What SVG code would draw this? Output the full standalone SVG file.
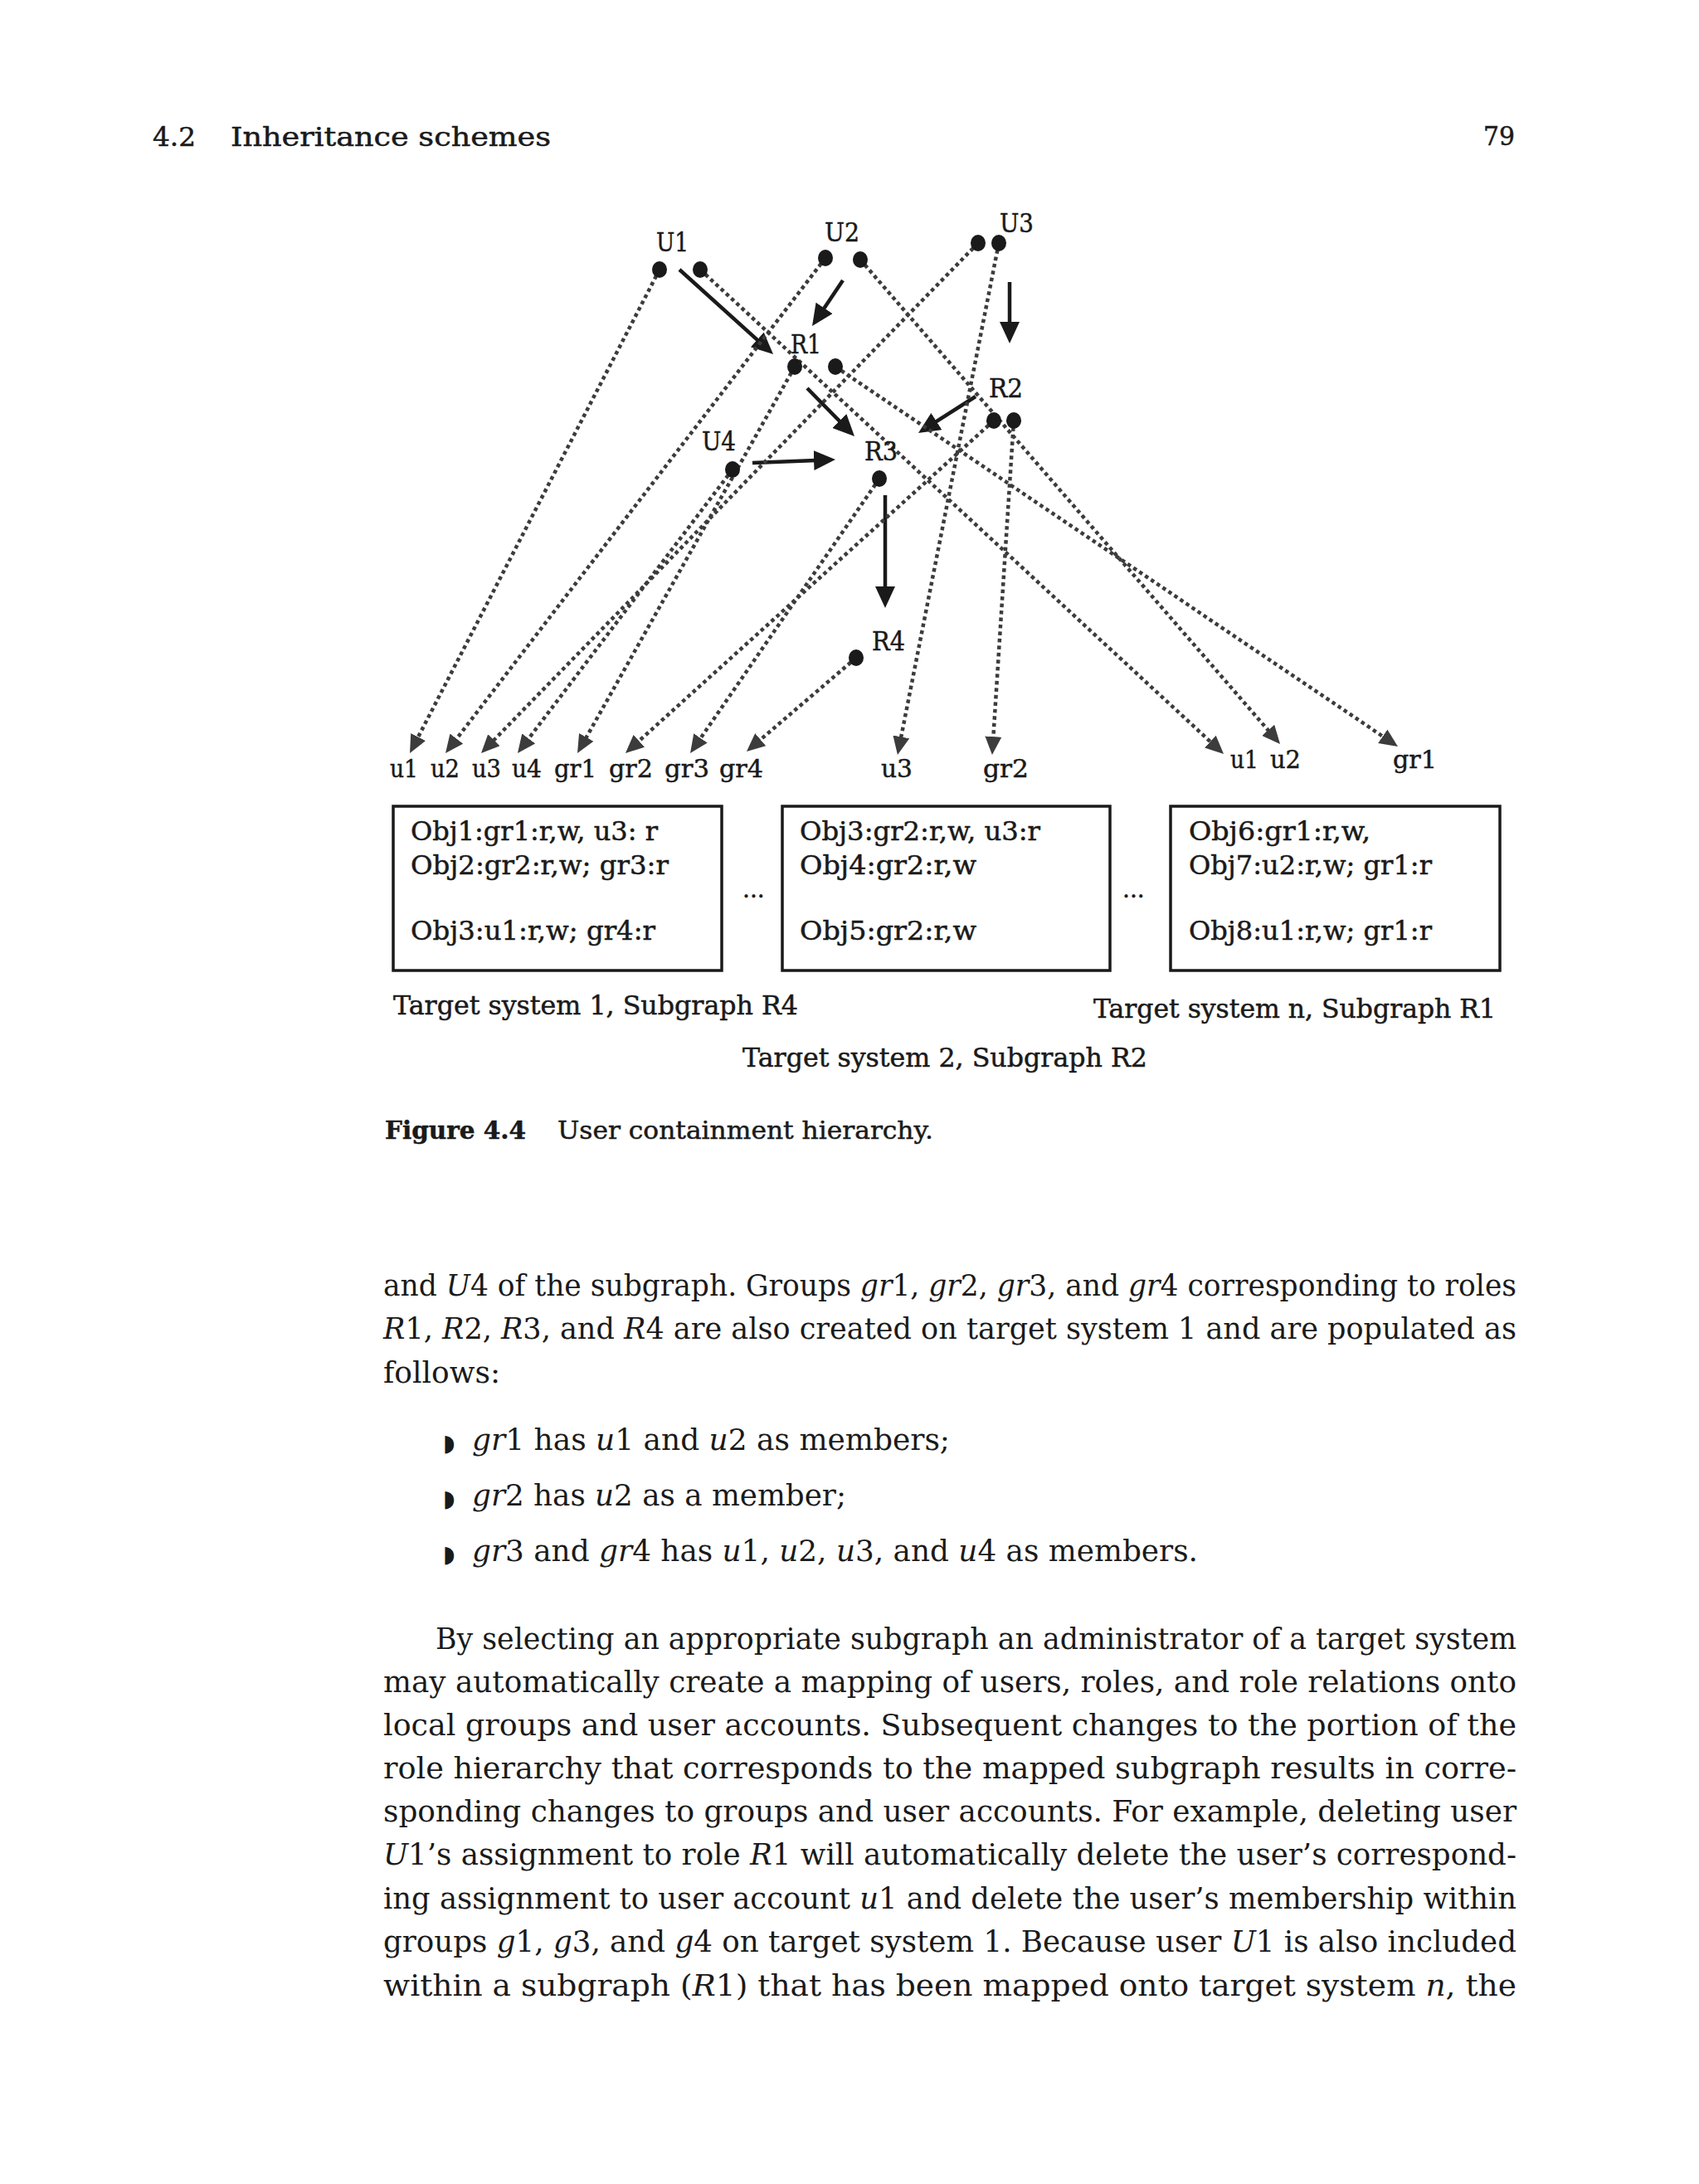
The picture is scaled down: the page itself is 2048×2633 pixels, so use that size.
<svg xmlns="http://www.w3.org/2000/svg" width="2048" height="2633" viewBox="0 0 2048 2633">
<style>
.sl{font-family:"DejaVu Serif","Liberation Serif",serif;fill:#1a1a1a;stroke:#1a1a1a;stroke-width:0.5}
.lb{font-size:32px}
.tl{font-size:30px}
.bx{font-size:31px}
.body{font-family:"DejaVu Serif","Liberation Serif",serif;font-size:35px;fill:#1a1a1a}
.i{font-style:italic}
.dot{fill:#1a1a1a}
.sol{stroke:#1a1a1a;stroke-width:4.5;fill:none;marker-end:url(#ah)}
.dt{stroke:#3c3c3c;stroke-width:4.5;stroke-dasharray:4.5 4;fill:none;marker-end:url(#ahg)}
.box{fill:none;stroke:#1a1a1a;stroke-width:3.5}
.bul{font-family:"DejaVu Sans",sans-serif;font-size:28px;fill:#1a1a1a}
</style>
<defs>
<marker id="ah" markerUnits="userSpaceOnUse" viewBox="0 0 26 24" refX="16" refY="12" markerWidth="26" markerHeight="24" orient="auto"><path d="M0,0 L26,12 L0,24 z" fill="#1a1a1a"/></marker>
<marker id="ahg" markerUnits="userSpaceOnUse" viewBox="0 0 22 20" refX="12" refY="10" markerWidth="22" markerHeight="20" orient="auto"><path d="M0,0 L22,10 L0,20 z" fill="#3c3c3c"/></marker>
</defs>
<rect width="2048" height="2633" fill="#fff"/>

<g id="header">
<text class="sl" x="184" y="176" font-size="32" textLength="52" lengthAdjust="spacingAndGlyphs">4.2</text>
<text class="sl" x="278" y="176" font-size="32" textLength="386" lengthAdjust="spacingAndGlyphs">Inheritance schemes</text>
<text class="sl" x="1788" y="175" font-size="32" textLength="38" lengthAdjust="spacingAndGlyphs">79</text>
</g>

<g id="connectors">
<line class="sol" x1="819" y1="325" x2="924.6" y2="420.3"/>
<line class="sol" x1="1016" y1="338" x2="984.6" y2="384.7"/>
<line class="sol" x1="1217" y1="340" x2="1217" y2="404"/>
<line class="sol" x1="1176" y1="478" x2="1115.4" y2="516.6"/>
<line class="sol" x1="973" y1="468" x2="1023" y2="518.9"/>
<line class="sol" x1="907" y1="558" x2="997" y2="554.4"/>
<line class="sol" x1="1067" y1="597" x2="1067" y2="723"/>

<line class="dt" x1="795" y1="325" x2="498.6" y2="899.1"/>
<line class="dt" x1="995" y1="311" x2="543.1" y2="900.1"/>
<line class="dt" x1="1179" y1="293" x2="587.0" y2="900.8"/>
<line class="dt" x1="883" y1="566" x2="630.0" y2="900.0"/>
<line class="dt" x1="958" y1="442" x2="700.9" y2="899.3"/>
<line class="dt" x1="1198" y1="507" x2="761.4" y2="901.3"/>
<line class="dt" x1="1060" y1="577" x2="837.7" y2="899.8"/>
<line class="dt" x1="1032" y1="793" x2="907.6" y2="899.5"/>
<line class="dt" x1="1204" y1="293" x2="1083.9" y2="900.2"/>
<line class="dt" x1="1222" y1="507" x2="1196.6" y2="900.0"/>
<line class="dt" x1="844" y1="325" x2="1467.7" y2="902.2"/>
<line class="dt" x1="1037" y1="313" x2="1536.5" y2="889.4"/>
<line class="dt" x1="1007" y1="442" x2="1676.7" y2="894.4"/>
</g>

<g id="U1"><text class="sl lb" x="791" y="303" textLength="39" lengthAdjust="spacingAndGlyphs">U1</text><ellipse class="dot" cx="795" cy="325" rx="9" ry="10"/><ellipse class="dot" cx="844" cy="325" rx="9" ry="10"/></g>
<g id="U2"><text class="sl lb" x="994" y="291" textLength="42" lengthAdjust="spacingAndGlyphs">U2</text><ellipse class="dot" cx="995" cy="311" rx="9" ry="10"/><ellipse class="dot" cx="1037" cy="313" rx="9" ry="10"/></g>
<g id="U3"><text class="sl lb" x="1205" y="280" textLength="41" lengthAdjust="spacingAndGlyphs">U3</text><ellipse class="dot" cx="1179" cy="293" rx="9" ry="10"/><ellipse class="dot" cx="1204" cy="293" rx="9" ry="10"/></g>
<g id="R1"><text class="sl lb" x="953" y="426" textLength="37" lengthAdjust="spacingAndGlyphs">R1</text><ellipse class="dot" cx="958" cy="442" rx="9" ry="10"/><ellipse class="dot" cx="1007" cy="442" rx="9" ry="10"/></g>
<g id="R2"><text class="sl lb" x="1192" y="479" textLength="41" lengthAdjust="spacingAndGlyphs">R2</text><ellipse class="dot" cx="1198" cy="507" rx="9" ry="10"/><ellipse class="dot" cx="1222" cy="507" rx="9" ry="10"/></g>
<g id="U4"><text class="sl lb" x="846" y="543" textLength="41" lengthAdjust="spacingAndGlyphs">U4</text><ellipse class="dot" cx="883" cy="566" rx="9" ry="10"/></g>
<g id="R3"><text class="sl lb" x="1042" y="555" textLength="40" lengthAdjust="spacingAndGlyphs">R3</text><ellipse class="dot" cx="1060" cy="577" rx="9" ry="10"/></g>
<g id="R4"><text class="sl lb" x="1051" y="784" textLength="40" lengthAdjust="spacingAndGlyphs">R4</text><ellipse class="dot" cx="1032" cy="793" rx="9" ry="10"/></g>

<g id="targets1">
<text class="sl tl" x="470" y="937" textLength="34" lengthAdjust="spacingAndGlyphs">u1</text>
<text class="sl tl" x="519" y="937" textLength="35" lengthAdjust="spacingAndGlyphs">u2</text>
<text class="sl tl" x="569" y="937" textLength="35" lengthAdjust="spacingAndGlyphs">u3</text>
<text class="sl tl" x="617" y="937" textLength="36" lengthAdjust="spacingAndGlyphs">u4</text>
<text class="sl tl" x="668" y="937" textLength="51" lengthAdjust="spacingAndGlyphs">gr1</text>
<text class="sl tl" x="734" y="937" textLength="53" lengthAdjust="spacingAndGlyphs">gr2</text>
<text class="sl tl" x="801" y="937" textLength="54" lengthAdjust="spacingAndGlyphs">gr3</text>
<text class="sl tl" x="867" y="937" textLength="53" lengthAdjust="spacingAndGlyphs">gr4</text>
</g>
<g id="targets2">
<text class="sl tl" x="1062" y="937" textLength="38" lengthAdjust="spacingAndGlyphs">u3</text>
<text class="sl tl" x="1185" y="937" textLength="55" lengthAdjust="spacingAndGlyphs">gr2</text>
</g>
<g id="targetsn">
<text class="sl tl" x="1483" y="926" textLength="34" lengthAdjust="spacingAndGlyphs">u1</text>
<text class="sl tl" x="1531" y="926" textLength="37" lengthAdjust="spacingAndGlyphs">u2</text>
<text class="sl tl" x="1679" y="926" textLength="53" lengthAdjust="spacingAndGlyphs">gr1</text>
</g>

<g id="box1">
<rect class="box" x="474" y="972" width="396" height="198"/>
<text class="sl bx" x="495" y="1013" textLength="298" lengthAdjust="spacingAndGlyphs">Obj1:gr1:r,w, u3: r</text>
<text class="sl bx" x="495" y="1054" textLength="311" lengthAdjust="spacingAndGlyphs">Obj2:gr2:r,w; gr3:r</text>
<text class="sl bx" x="495" y="1133" textLength="295" lengthAdjust="spacingAndGlyphs">Obj3:u1:r,w; gr4:r</text>
</g>
<g id="box2">
<rect class="box" x="943" y="972" width="395" height="198"/>
<text class="sl bx" x="964" y="1013" textLength="290" lengthAdjust="spacingAndGlyphs">Obj3:gr2:r,w, u3:r</text>
<text class="sl bx" x="964" y="1054" textLength="213" lengthAdjust="spacingAndGlyphs">Obj4:gr2:r,w</text>
<text class="sl bx" x="964" y="1133" textLength="213" lengthAdjust="spacingAndGlyphs">Obj5:gr2:r,w</text>
</g>
<g id="box3">
<rect class="box" x="1411" y="972" width="397" height="198"/>
<text class="sl bx" x="1433" y="1013" textLength="219" lengthAdjust="spacingAndGlyphs">Obj6:gr1:r,w,</text>
<text class="sl bx" x="1433" y="1054" textLength="293" lengthAdjust="spacingAndGlyphs">Obj7:u2:r,w; gr1:r</text>
<text class="sl bx" x="1433" y="1133" textLength="293" lengthAdjust="spacingAndGlyphs">Obj8:u1:r,w; gr1:r</text>
</g>
<g id="ellipses">
<text class="sl" x="895" y="1082" font-size="28">...</text>
<text class="sl" x="1353" y="1082" font-size="28">...</text>
</g>
<g id="captions">
<text class="sl bx" x="474" y="1223" textLength="488" lengthAdjust="spacingAndGlyphs">Target system 1, Subgraph R4</text>
<text class="sl bx" x="1318" y="1227" textLength="485" lengthAdjust="spacingAndGlyphs">Target system n, Subgraph R1</text>
<text class="sl bx" x="895" y="1286" textLength="488" lengthAdjust="spacingAndGlyphs">Target system 2, Subgraph R2</text>
</g>
<g id="figcaption">
<text class="sl" x="464" y="1373" font-size="29" font-weight="bold" textLength="170" lengthAdjust="spacingAndGlyphs">Figure 4.4</text>
<text class="sl" x="672" y="1373" font-size="29" textLength="453" lengthAdjust="spacingAndGlyphs">User containment hierarchy.</text>
</g>

<g id="bodytext">
<text class="body" x="462" y="1562" textLength="1366" lengthAdjust="spacingAndGlyphs">and <tspan class="i">U</tspan>4 of the subgraph. Groups <tspan class="i">gr</tspan>1, <tspan class="i">gr</tspan>2, <tspan class="i">gr</tspan>3, and <tspan class="i">gr</tspan>4 corresponding to roles</text>
<text class="body" x="462" y="1614" textLength="1366" lengthAdjust="spacingAndGlyphs"><tspan class="i">R</tspan>1, <tspan class="i">R</tspan>2, <tspan class="i">R</tspan>3, and <tspan class="i">R</tspan>4 are also created on target system 1 and are populated as</text>
<text class="body" x="462" y="1667" textLength="141" lengthAdjust="spacingAndGlyphs">follows:</text>
<text class="bul" x="534" y="1749">◗</text>
<text class="body" x="569" y="1748" textLength="576" lengthAdjust="spacingAndGlyphs"><tspan class="i">gr</tspan>1 has <tspan class="i">u</tspan>1 and <tspan class="i">u</tspan>2 as members;</text>
<text class="bul" x="534" y="1816">◗</text>
<text class="body" x="569" y="1815" textLength="451" lengthAdjust="spacingAndGlyphs"><tspan class="i">gr</tspan>2 has <tspan class="i">u</tspan>2 as a member;</text>
<text class="bul" x="534" y="1883">◗</text>
<text class="body" x="569" y="1882" textLength="875" lengthAdjust="spacingAndGlyphs"><tspan class="i">gr</tspan>3 and <tspan class="i">gr</tspan>4 has <tspan class="i">u</tspan>1, <tspan class="i">u</tspan>2, <tspan class="i">u</tspan>3, and <tspan class="i">u</tspan>4 as members.</text>

<text class="body" x="525" y="1988" textLength="1303" lengthAdjust="spacingAndGlyphs">By selecting an appropriate subgraph an administrator of a target system</text>
<text class="body" x="462" y="2040" textLength="1366" lengthAdjust="spacingAndGlyphs">may automatically create a mapping of users, roles, and role relations onto</text>
<text class="body" x="462" y="2092" textLength="1366" lengthAdjust="spacingAndGlyphs">local groups and user accounts. Subsequent changes to the portion of the</text>
<text class="body" x="462" y="2144" textLength="1366" lengthAdjust="spacingAndGlyphs">role hierarchy that corresponds to the mapped subgraph results in corre-</text>
<text class="body" x="462" y="2196" textLength="1366" lengthAdjust="spacingAndGlyphs">sponding changes to groups and user accounts. For example, deleting user</text>
<text class="body" x="462" y="2248" textLength="1366" lengthAdjust="spacingAndGlyphs"><tspan class="i">U</tspan>1’s assignment to role <tspan class="i">R</tspan>1 will automatically delete the user’s correspond-</text>
<text class="body" x="462" y="2301" textLength="1366" lengthAdjust="spacingAndGlyphs">ing assignment to user account <tspan class="i">u</tspan>1 and delete the user’s membership within</text>
<text class="body" x="462" y="2353" textLength="1366" lengthAdjust="spacingAndGlyphs">groups <tspan class="i">g</tspan>1, <tspan class="i">g</tspan>3, and <tspan class="i">g</tspan>4 on target system 1. Because user <tspan class="i">U</tspan>1 is also included</text>
<text class="body" x="462" y="2406" textLength="1366" lengthAdjust="spacingAndGlyphs">within a subgraph (<tspan class="i">R</tspan>1) that has been mapped onto target system <tspan class="i">n</tspan>, the</text>
</g>
</svg>
